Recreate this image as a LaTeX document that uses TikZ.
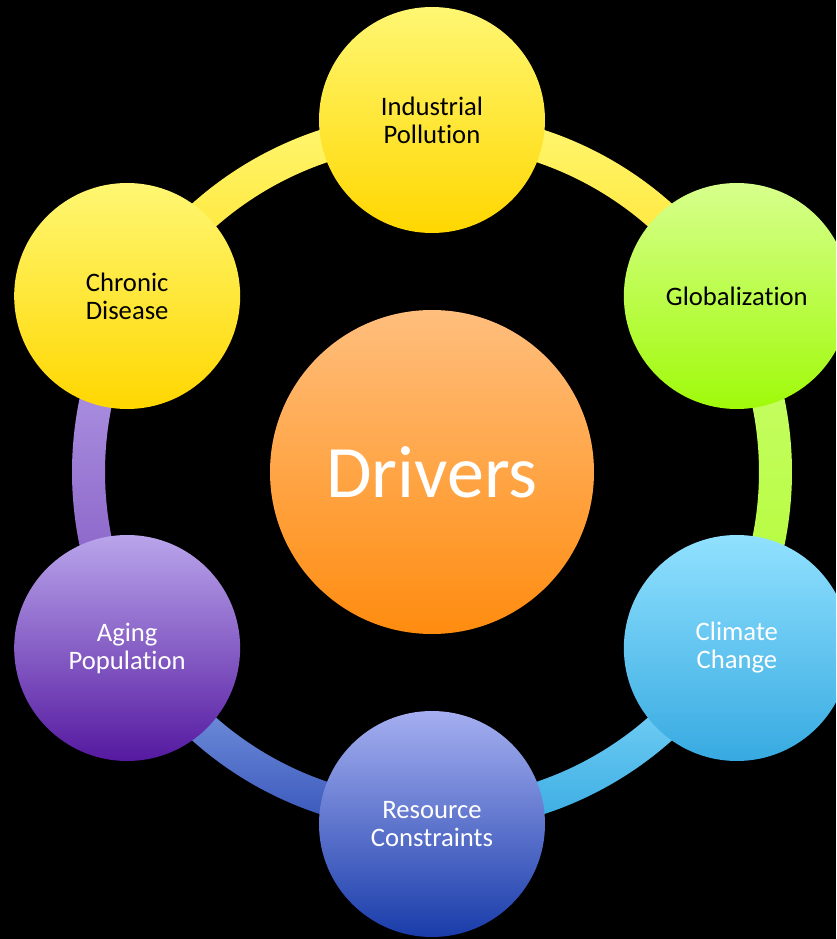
\documentclass[tikz,border=0pt]{standalone}
\usepackage{fontspec}
\setmainfont{Carlito}[Ligatures=NoCommon]

% Farben der Kreise
\definecolor{yelTop}{RGB}{255,247,115}
\definecolor{yelBot}{RGB}{255,215,0}
\definecolor{grnTop}{RGB}{215,255,140}
\definecolor{grnBot}{RGB}{160,250,10}
\definecolor{skyTop}{RGB}{145,225,255}
\definecolor{skyBot}{RGB}{55,170,225}
\definecolor{bluTop}{RGB}{165,175,240}
\definecolor{bluBot}{RGB}{25,60,170}
\definecolor{purTop}{RGB}{185,165,235}
\definecolor{purBot}{RGB}{85,25,160}
\definecolor{orgTop}{RGB}{255,190,125}
\definecolor{orgBot}{RGB}{255,140,15}

\begin{document}
\begin{tikzpicture}[x=0.75pt, y=0.75pt,
    driver/.style={circle, inner sep=0pt, minimum size=169.5pt, align=center,
      font=\fontsize{20}{21}\selectfont},
    hub/.style={circle, inner sep=0pt, minimum size=243pt, text=white,
      font=\fontsize{55.5}{60}\selectfont}]
    \useasboundingbox (-432,-467) rectangle (404,472);
    \clip (-432,-467) rectangle (404,472);
    \fill[black] (-432,-467) rectangle (404,472);

    % Ring
    \shade[top color=yelTop, bottom color=yelBot!70!yelTop]
      (30:327) arc (30:90:327) -- (90:360) arc (90:30:360) -- cycle;
    \shade[top color=grnTop!80!grnBot, bottom color=grnBot!70!grnTop]
      (-30:327) arc (-30:30:327) -- (30:360) arc (30:-30:360) -- cycle;
    \shade[top color=skyTop, bottom color=skyBot]
      (-90:327) arc (-90:-30:327) -- (-30:360) arc (-30:-90:360) -- cycle;
    \shade[top color=bluTop!80!skyBot, bottom color=bluBot!80!bluTop]
      (210:327) arc (210:270:327) -- (270:360) arc (270:210:360) -- cycle;
    \shade[top color=purTop, bottom color=purBot!60!purTop]
      (150:327) arc (150:210:327) -- (210:360) arc (210:150:360) -- cycle;
    \shade[top color=yelTop, bottom color=yelBot!70!yelTop]
      (90:327) arc (90:150:327) -- (150:360) arc (150:90:360) -- cycle;

    % Mitte
    \node[hub, top color=orgTop, bottom color=orgBot] (drivers) at (0,0) {Drivers};

    % Treiber
    \node[driver, top color=yelTop, bottom color=yelBot] (pollution) at (90:352) {Industrial\\Pollution};
    \node[driver, top color=grnTop, bottom color=grnBot] (global) at (30:352) {Globalization};
    \node[driver, top color=skyTop, bottom color=skyBot, text=white] (climate) at (-30:352) {Climate\\Change};
    \node[driver, top color=bluTop, bottom color=bluBot, text=white] (resource) at (-90:352) {Resource\\Constraints};
    \node[driver, top color=purTop, bottom color=purBot, text=white] (aging) at (210:352) {Aging\\Population};
    \node[driver, top color=yelTop, bottom color=yelBot] (chronic) at (150:352) {Chronic\\Disease};
\end{tikzpicture}
\end{document}
